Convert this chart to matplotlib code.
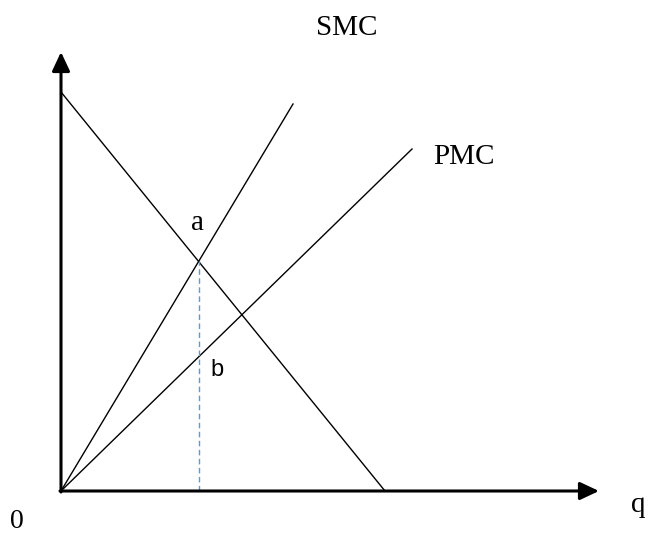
import numpy as np
from matplotlib import pyplot as plt

# line end points (pixel-like units, origin at the axes corner)
demand_x = [0, 324]
demand_y = [399, 0]
smc_x = [0, 232]
smc_y = [0, 387]
pmc_x = [0, 351]
pmc_y = [0, 342]
q_star = 138
p_star = 230

fig = plt.figure(figsize=(6.48, 5.36), dpi=100)
ax = fig.add_axes([0, 0, 1, 1])
ax.set_xlim(-61, 587)
ax.set_ylim(-45, 491)
ax.axis("off")

# axes with arrow heads
arrow = dict(arrowstyle="-|>,head_length=1.15,head_width=0.54", mutation_scale=10,
             lw=2.2, color="black", shrinkA=0, shrinkB=0)
ax.annotate("", xy=(0, 439), xytext=(0, -1), arrowprops=arrow)
ax.annotate("", xy=(538, 0), xytext=(-1, 0), arrowprops=arrow)

ax.plot(demand_x, demand_y, color="black", lw=1.0)
ax.plot(smc_x, smc_y, color="black", lw=1.0)
ax.plot(pmc_x, pmc_y, color="black", lw=1.0)
ax.plot([q_star, q_star], [0, p_star], color="#5b9bd5", lw=1.0, dashes=(4, 2.5))

serif = dict(family="Liberation Serif", fontsize=21, ha="center", va="center")
ax.text(286, 463, "SMC", **serif)
ax.text(403, 334, "PMC", **serif)
ax.text(136, 268, "a", **serif)
ax.text(-44, -31, "0", family="Liberation Serif", fontsize=20, ha="center", va="center")
ax.text(577, -14, "q", **serif)
ax.text(156, 121, "b", family="Liberation Sans", fontsize=17, ha="center", va="center")

plt.savefig("out.png", dpi=100)
